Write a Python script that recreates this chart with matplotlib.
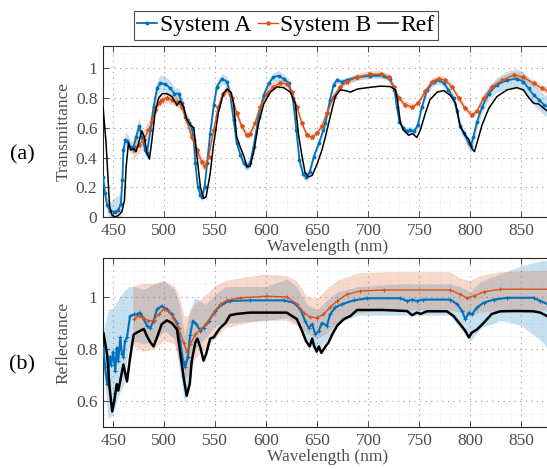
import numpy as np
import matplotlib
matplotlib.use("Agg")
import matplotlib.pyplot as plt
from matplotlib.ticker import MultipleLocator, FuncFormatter

plt.rcParams['font.family'] = ['Liberation Serif', 'DejaVu Serif']
plt.rcParams['mathtext.fontset'] = 'stix'

# ---------------- (a) Transmittance ----------------
a_ref_x = [440, 443, 445, 446.5, 449, 452, 455, 458.5, 461, 462.7, 465, 467, 470, 472.5, 475, 478, 480.5, 483,
           485.5, 488, 491, 494.5, 498, 502.5, 507.5, 512.5, 515.5, 519, 522, 525.5, 529, 532, 535.5, 538.5, 541,
           545, 548, 553, 558, 561.5, 565.5, 568, 571, 574.5, 578, 581, 584, 587.5, 592.5, 597.5, 604, 610.5, 617,
           623.5, 628.5, 631.5, 635, 638, 641.5, 645, 650, 654.5, 658, 662.5, 667.5, 672.5, 677.5, 682.5, 689,
           699, 712, 721.5, 726.5, 728.5, 731.5, 734.5, 739.5, 743.5, 747.5, 751, 756, 760.5, 767.5, 774, 780,
           785.5, 790, 795, 798.5, 801.5, 804, 806.5, 811.5, 818, 826, 836, 845.5, 852, 857, 862, 867, 872, 876]
a_ref_y = [0.74, 0.50, 0.25, 0.07, 0.01, 0.0, 0.01, 0.035, 0.11, 0.34, 0.50, 0.45, 0.46, 0.44, 0.50, 0.58, 0.54, 0.43,
           0.39, 0.52, 0.70, 0.80, 0.83, 0.83, 0.81, 0.75, 0.78, 0.74, 0.66, 0.62, 0.60, 0.41, 0.20, 0.125, 0.135,
           0.29, 0.47, 0.70, 0.83, 0.86, 0.84, 0.76, 0.54, 0.47, 0.41, 0.34, 0.34, 0.43, 0.63, 0.76, 0.84, 0.875, 0.87,
           0.84, 0.76, 0.56, 0.41, 0.30, 0.27, 0.28, 0.36, 0.45, 0.54, 0.67, 0.81, 0.855, 0.85, 0.84, 0.86,
           0.87, 0.88, 0.877, 0.855, 0.79, 0.63, 0.585, 0.55, 0.56, 0.535, 0.585, 0.70, 0.79, 0.84, 0.85, 0.82,
           0.765, 0.61, 0.55, 0.52, 0.46, 0.44, 0.50, 0.62, 0.73, 0.81, 0.855, 0.87, 0.855, 0.805, 0.765, 0.76, 0.73, 0.71]

a_A_x = [440, 442, 444, 447, 452, 455, 457.5, 459, 460, 462, 464, 467, 470, 472.5, 475.5, 478, 481.5, 483, 486.5,
         489.5, 493, 496, 501, 506, 510, 514, 517.5, 520.5, 524, 527, 529, 530.5, 533, 535.5, 537, 539.5, 542, 545,
         548.5, 551.5, 556.5, 561.5, 564.5, 568, 571, 574.5, 578, 581, 584, 587.5, 592.5, 597.5, 602.5, 607, 612,
         617, 622, 626, 629.5, 632.5, 636, 639, 642.5, 646.5, 651.5, 656, 658, 662.5, 666, 669, 674, 679, 689,
         702, 715, 721.5, 725.5, 728, 730.5, 734, 738, 741, 745, 748.5, 752.5, 757.5, 764, 769, 774, 778.5,
         783.5, 787, 790, 793.5, 798.5, 800.5, 803, 806.5, 811.5, 818, 826, 836, 845.5, 852, 857, 862, 867, 872, 876]
a_A_y = [0.27, 0.16, 0.08, 0.04, 0.035, 0.045, 0.09, 0.25, 0.45, 0.52, 0.51, 0.47, 0.47, 0.54, 0.61, 0.54, 0.45, 0.43, 0.585,
         0.74, 0.865, 0.90, 0.895, 0.865, 0.83, 0.83, 0.765, 0.675, 0.635, 0.60, 0.52, 0.36, 0.20, 0.15, 0.135, 0.20, 0.36, 0.56,
         0.75, 0.875, 0.93, 0.91, 0.83, 0.65, 0.50, 0.42, 0.36, 0.34, 0.36, 0.47, 0.675, 0.82, 0.90, 0.94, 0.95,
         0.93, 0.90, 0.80, 0.585, 0.38, 0.29, 0.27, 0.30, 0.405, 0.495, 0.585, 0.63, 0.79, 0.89, 0.92, 0.91, 0.92, 0.94,
         0.95, 0.95, 0.925, 0.855, 0.74, 0.64, 0.60, 0.575, 0.585, 0.575, 0.62, 0.74, 0.855, 0.91, 0.92, 0.90, 0.855,
         0.80, 0.71, 0.61, 0.565, 0.495, 0.475, 0.54, 0.64, 0.74, 0.83, 0.89, 0.92, 0.93, 0.91, 0.865, 0.82, 0.79, 0.755, 0.74]
a_A_hw = [0.04, 0.04, 0.05, 0.06, 0.10, 0.10, 0.08, 0.06, 0.05, 0.05, 0.05, 0.04, 0.04, 0.05, 0.06, 0.05, 0.04, 0.04, 0.04,
          0.04, 0.05, 0.055, 0.05, 0.05, 0.04, 0.04, 0.04, 0.04, 0.035, 0.03, 0.03, 0.03, 0.03, 0.03, 0.03, 0.03, 0.03, 0.03,
          0.035, 0.035, 0.035, 0.035, 0.03, 0.03, 0.03, 0.03, 0.03, 0.03, 0.03, 0.03, 0.03, 0.03, 0.03, 0.03, 0.035,
          0.03, 0.03, 0.03, 0.03, 0.03, 0.03, 0.03, 0.03, 0.025, 0.02, 0.02, 0.02, 0.02, 0.02, 0.02, 0.02, 0.02, 0.02,
          0.02, 0.02, 0.02, 0.02, 0.02, 0.02, 0.025, 0.025, 0.025, 0.025, 0.025, 0.025, 0.025, 0.025, 0.025, 0.025, 0.025,
          0.03, 0.03, 0.035, 0.035, 0.04, 0.04, 0.04, 0.04, 0.04, 0.04, 0.05, 0.06, 0.065, 0.065, 0.065, 0.07, 0.07, 0.07, 0.07]

a_B_x = [470, 475, 480, 484.5, 488, 491, 494.5, 497.5, 502.5, 507.5, 512.5, 517.5, 522, 527, 532, 537, 540, 543.5,
         548.5, 553, 558, 562, 566.5, 571, 576, 581, 584, 589, 594, 600.5, 607, 613.5, 620.5, 625, 630, 635, 640,
         645, 650, 654.5, 659.5, 666, 672.5, 679, 689, 702, 712, 720, 725, 730, 736, 743, 749, 756, 762.5, 769,
         775.5, 782, 788.5, 795, 801.5, 806.5, 813, 821, 831, 842.5, 852, 862, 870, 876]
a_B_y = [0.45, 0.485, 0.52, 0.585, 0.64, 0.72, 0.765, 0.79, 0.80, 0.79, 0.775, 0.74, 0.65, 0.54, 0.45, 0.37, 0.34, 0.405,
         0.585, 0.74, 0.83, 0.855, 0.80, 0.70, 0.61, 0.55, 0.555, 0.63, 0.74, 0.83, 0.875, 0.90, 0.895, 0.84, 0.74, 0.63, 0.55,
         0.535, 0.565, 0.61, 0.70, 0.81, 0.875, 0.91, 0.94, 0.96, 0.96, 0.94, 0.875, 0.80, 0.755, 0.74, 0.765, 0.845, 0.91, 0.93,
         0.92, 0.875, 0.80, 0.73, 0.685, 0.71, 0.80, 0.875, 0.92, 0.955, 0.94, 0.90, 0.865, 0.85]
a_B_hw = [0.07, 0.06, 0.06, 0.05, 0.05, 0.04, 0.035, 0.035, 0.035, 0.035, 0.035, 0.03, 0.03, 0.03, 0.035, 0.035, 0.03, 0.03,
          0.03, 0.03, 0.025, 0.025, 0.025, 0.025, 0.025, 0.025, 0.025, 0.025, 0.025, 0.025, 0.025, 0.02, 0.02, 0.02, 0.02, 0.02, 0.02,
          0.02, 0.02, 0.02, 0.02, 0.02, 0.02, 0.02, 0.02, 0.02, 0.02, 0.02, 0.02, 0.02, 0.02, 0.02, 0.02, 0.02, 0.02, 0.02,
          0.02, 0.02, 0.02, 0.02, 0.02, 0.02, 0.02, 0.02, 0.02, 0.02, 0.02, 0.02, 0.02, 0.02]

# ---------------- (b) Reflectance ----------------
b_ref_x = [440.5, 444, 446.5, 449, 451, 453.5, 455, 457.5, 460, 463.5, 466.5, 470, 473, 476.5, 480, 483, 486.5, 489.5,
           493, 497.5, 502.5, 507.5, 512.5, 515.5, 519, 522, 525, 527, 530.5, 532.5, 535.5, 538.5, 541, 545, 548.5,
           551.5, 555, 560, 564.5, 571, 584, 601, 620, 630, 635, 639, 642.5, 645, 647, 649.5, 651.5, 654, 658, 661,
           664.5, 669.5, 676, 682.5, 689, 715, 738, 743, 747.5, 751.5, 757.5, 777, 783.5, 790, 795, 798.5, 801.5,
           806.5, 813, 821, 829.5, 845.5, 862, 868.5, 876]
b_ref_y = [0.86, 0.78, 0.65, 0.56, 0.60, 0.665, 0.64, 0.69, 0.74, 0.675, 0.765, 0.855, 0.863, 0.87, 0.877, 0.85, 0.825, 0.81,
           0.845, 0.895, 0.91, 0.90, 0.875, 0.79, 0.69, 0.62, 0.665, 0.755, 0.825, 0.84, 0.805, 0.755, 0.78, 0.84, 0.845,
           0.863, 0.882, 0.90, 0.93, 0.935, 0.94, 0.94, 0.94, 0.915, 0.87, 0.83, 0.81, 0.84, 0.81, 0.79, 0.81, 0.785, 0.81, 0.825,
           0.855, 0.89, 0.915, 0.927, 0.95, 0.95, 0.946, 0.93, 0.94, 0.935, 0.945, 0.945, 0.927, 0.895, 0.87, 0.845, 0.863,
           0.875, 0.90, 0.935, 0.945, 0.946, 0.945, 0.94, 0.925]

b_A_x = [440.5, 442, 444, 445, 446.5, 448, 450, 452, 453.5, 455, 457, 458.5, 460, 461.5, 463.5, 466.5, 470, 473, 476.5,
         480, 483, 486.5, 489.5, 493, 497.5, 502.5, 507.5, 512.5, 515.5, 518.5, 520.5, 523, 525.5, 528, 531.5, 535.5,
         538.5, 543.5, 550, 556.5, 564.5, 584, 617, 627, 633.5, 638, 641.5, 645, 648, 651.5, 654.5, 659.5, 662.5,
         667.5, 674, 685.5, 699, 731.5, 738, 743, 747.5, 754, 780.5, 787, 792, 795, 798.5, 801.5, 806.5, 813, 823,
         836, 862, 868.5, 876]
b_A_y = [0.805, 0.73, 0.665, 0.68, 0.77, 0.74, 0.79, 0.715, 0.805, 0.755, 0.845, 0.78, 0.77, 0.83, 0.845, 0.927, 0.933, 0.933, 0.94,
         0.914, 0.89, 0.882, 0.908, 0.953, 0.965, 0.953, 0.933, 0.90, 0.83, 0.755, 0.73, 0.77, 0.855, 0.908, 0.895, 0.87,
         0.882, 0.908, 0.946, 0.972, 0.985, 0.987, 0.987, 0.978, 0.953, 0.908, 0.882, 0.895, 0.856, 0.87, 0.90, 0.89, 0.933,
         0.96, 0.972, 0.987, 0.995, 0.995, 0.985, 0.99, 0.985, 0.99, 0.99, 0.972, 0.946, 0.914, 0.94, 0.933, 0.96, 0.978, 0.99,
         0.997, 0.997, 0.985, 0.972]
b_A_band_x = [440, 445, 450, 455, 460, 465, 470, 480, 490, 500, 510, 515, 520, 525, 530, 540, 550, 560, 600, 620, 630,
              640, 650, 660, 670, 690, 730, 780, 790, 800, 810, 830, 850, 870, 876]
b_A_lo = [0.75, 0.53, 0.55, 0.62, 0.66, 0.80, 0.83, 0.82, 0.83, 0.87, 0.84, 0.72, 0.59, 0.70, 0.80, 0.84, 0.89, 0.90, 0.91,
          0.92, 0.90, 0.82, 0.79, 0.84, 0.90, 0.93, 0.93, 0.93, 0.88, 0.83, 0.88, 0.91, 0.89, 0.83, 0.80]
b_A_hi = [0.86, 0.95, 0.96, 0.99, 1.02, 1.04, 1.04, 1.03, 1.05, 1.06, 1.03, 0.97, 0.85, 0.95, 1.00, 0.97, 1.01, 1.04, 1.04,
          1.07, 1.04, 0.97, 0.95, 0.99, 1.02, 1.04, 1.05, 1.05, 1.04, 1.02, 1.06, 1.09, 1.12, 1.14, 1.14]

b_B_x = [470, 475, 479.5, 484.5, 489.5, 494.5, 499.5, 504, 509, 514, 519, 522, 525.5, 530.5, 535.5, 542, 548.5, 555,
         561.5, 574.5, 600.5, 620.5, 630, 636.5, 643, 649.5, 656, 662.5, 669.5, 679, 692, 715, 780.5, 790, 796.5,
         803.5, 813, 829.5, 876]
b_B_y = [0.914, 0.927, 0.92, 0.908, 0.91, 0.933, 0.953, 0.946, 0.92, 0.882, 0.825, 0.79, 0.818, 0.856, 0.875, 0.90, 0.94, 0.972,
         0.987, 0.997, 1.003, 1.0, 0.972, 0.94, 0.923, 0.92, 0.933, 0.96, 0.985, 1.01, 1.023, 1.027, 1.027, 1.01, 0.997,
         1.004, 1.02, 1.03, 1.03]
b_B_band_x = [470, 480, 490, 500, 510, 515, 520, 525, 530, 540, 550, 560, 580, 600, 620, 630, 640, 650, 660, 670, 690,
              720, 780, 790, 800, 810, 830, 876]
b_B_lo = [0.81, 0.79, 0.80, 0.83, 0.82, 0.77, 0.68, 0.71, 0.76, 0.80, 0.84, 0.88, 0.90, 0.91, 0.91, 0.89, 0.86, 0.84, 0.86,
          0.90, 0.94, 0.95, 0.95, 0.94, 0.93, 0.94, 0.95, 0.95]
b_B_hi = [1.04, 1.05, 1.05, 1.06, 1.04, 1.00, 0.92, 0.93, 0.97, 1.00, 1.04, 1.06, 1.075, 1.085, 1.08, 1.06, 1.00, 0.99, 1.03,
          1.06, 1.09, 1.095, 1.095, 1.07, 1.06, 1.08, 1.095, 1.10]

series_labels = ["System A", "System B", "Ref"]
xticks = [450, 500, 550, 600, 650, 700, 750, 800, 850]
a_yticks = [0, 0.2, 0.4, 0.6, 0.8, 1]
b_yticks = [0.6, 0.8, 1]

C_A = '#0072BD'
C_B = '#D95319'
TICKC = '#4d4d4d'

fig = plt.figure(figsize=(5.47, 4.69), dpi=100)
W, H = 547, 469
def ax_rect(l, t, r, b):
    return [l / W, 1 - b / H, (r - l) / W, (b - t) / H]

ax1 = fig.add_axes(ax_rect(103, 46, 552, 217))
ax2 = fig.add_axes(ax_rect(103, 258, 552, 427))

fmt = FuncFormatter(lambda v, p: '%g' % round(v, 3))

def style(ax, ylim, yticks, yminor):
    ax.set_xlim(440, 880)
    ax.set_ylim(*ylim)
    ax.set_xticks(xticks)
    ax.set_yticks(yticks)
    ax.yaxis.set_major_formatter(fmt)
    ax.xaxis.set_minor_locator(MultipleLocator(10))
    ax.yaxis.set_minor_locator(MultipleLocator(yminor))
    ax.grid(True, which='major', linestyle=(0, (1, 4)), color='#9a9a9a', linewidth=0.8)
    ax.grid(True, which='minor', linestyle=(0, (1, 3)), color='#e2e2e2', linewidth=0.6)
    ax.set_axisbelow(True)
    ax.tick_params(which='major', direction='in', length=4, width=0.7, top=True, right=False,
                   labelsize=12.5, colors=TICKC, pad=4)
    ax.tick_params(which='minor', length=0, top=False)
    for s in ax.spines.values():
        s.set_color('#262626')
        s.set_linewidth(0.8)
    ax.set_xlabel('Wavelength (nm)', fontsize=12.5, color=TICKC, labelpad=0)

# (a)
ax1.fill_between(a_A_x, np.array(a_A_y) - np.array(a_A_hw), np.array(a_A_y) + np.array(a_A_hw),
                 color=C_A, alpha=0.22, linewidth=0)
ax1.fill_between(a_B_x, np.array(a_B_y) - np.array(a_B_hw), np.array(a_B_y) + np.array(a_B_hw),
                 facecolor=C_B, alpha=0.22, edgecolor=C_B, linestyle=':', linewidth=0.6)
ax1.plot(a_A_x, a_A_y, color=C_A, lw=1.3, marker='.', ms=3.5, label=series_labels[0], zorder=4)
ax1.plot(a_B_x, a_B_y, color=C_B, lw=1.0, marker='*', ms=3, label=series_labels[1], zorder=4)
ax1.plot(a_ref_x, a_ref_y, color='black', lw=1.1, label=series_labels[2], zorder=5)
style(ax1, (0, 1.15), a_yticks, 0.1)
ax1.set_ylabel('Transmittance', fontsize=12.5, color=TICKC, labelpad=3)

# (b)
ax2.fill_between(b_A_band_x, b_A_lo, b_A_hi, color=C_A, alpha=0.22, linewidth=0)
ax2.fill_between(b_B_band_x, b_B_lo, b_B_hi, facecolor=C_B, alpha=0.22, edgecolor=C_B,
                 linestyle=':', linewidth=0.6)
ax2.plot(b_A_x, b_A_y, color=C_A, lw=1.5, marker='+', ms=3, mew=0.8, zorder=4)
ax2.plot(b_B_x, b_B_y, color=C_B, lw=1.0, marker='+', ms=3, mew=0.8, zorder=4)
ax2.plot(b_ref_x, b_ref_y, color='black', lw=1.8, zorder=5)
style(ax2, (0.5, 1.15), b_yticks, 0.05)
ax2.set_ylabel('Reflectance', fontsize=12.5, color=TICKC, labelpad=3)

fig.text(22 / W, 1 - 155 / H, '(a)', fontsize=16, ha='center', va='center')
fig.text(22 / W, 1 - 365 / H, '(b)', fontsize=16, ha='center', va='center')

h, l = ax1.get_legend_handles_labels()
leg = fig.legend(h, l, loc='center', bbox_to_anchor=(286 / W, 1 - 25.5 / H), ncol=3, fontsize=17,
                 frameon=True, fancybox=False, handlelength=0.85, handletextpad=0.12, columnspacing=0.25,
                 borderpad=0.15, borderaxespad=0)
leg.get_frame().set_edgecolor('#262626')
leg.get_frame().set_linewidth(0.8)

fig.savefig('out.png', dpi=100)
